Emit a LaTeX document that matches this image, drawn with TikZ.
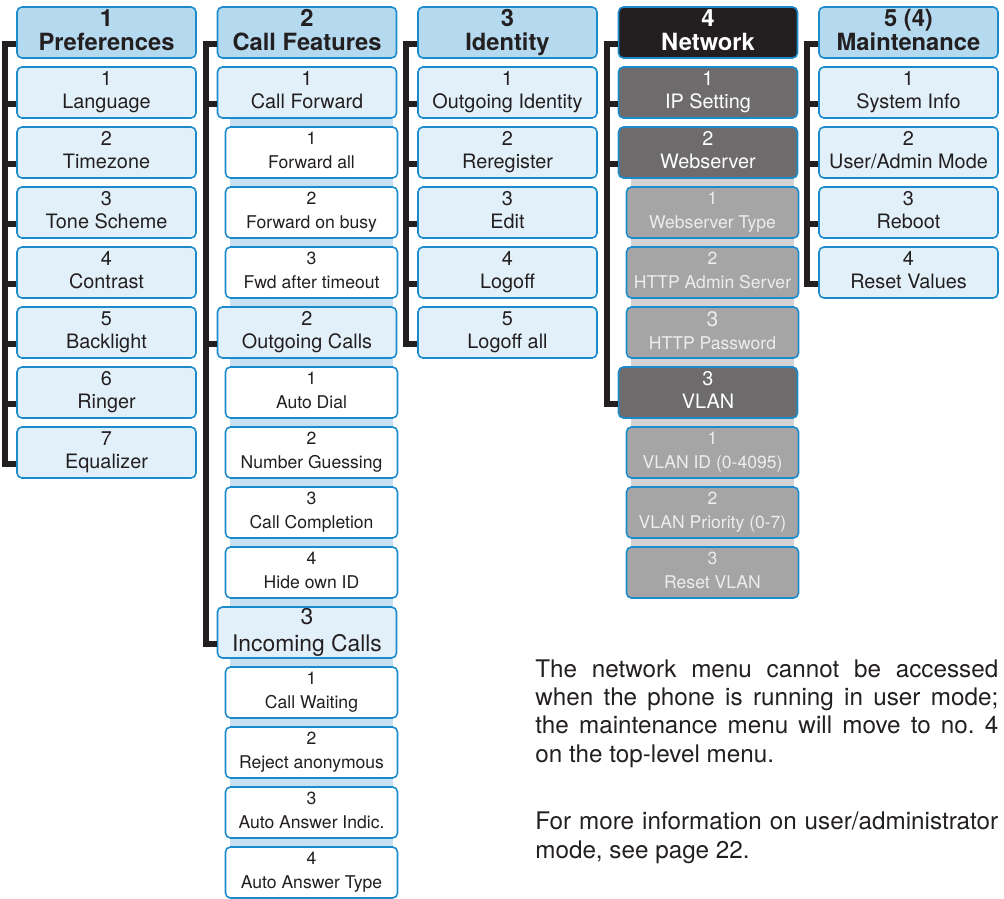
\documentclass[tikz,border=0pt]{standalone}
\usepackage{fontspec}
\setmainfont{TeX Gyre Heros}
\usetikzlibrary{backgrounds,calc}
\definecolor{edgeblue}{RGB}{27,139,204}
\definecolor{headblue}{RGB}{181,217,238}
\definecolor{itemblue}{RGB}{226,240,249}
\definecolor{stripblue}{RGB}{199,225,242}
\definecolor{inkdark}{RGB}{35,31,32}
\definecolor{netdark}{RGB}{110,107,108}
\definecolor{netlight}{RGB}{166,165,165}
\definecolor{stripgray}{RGB}{211,211,211}
\frenchspacing
\tikzset{
  mbox/.style={draw=edgeblue, line width=0.9pt, rounded corners=2.8pt, align=center, text=inkdark, minimum width=3.58cm, minimum height=1.02cm, inner sep=0pt, execute at end node=\vphantom{g}},
  mhead/.style={mbox, fill=headblue, font=\fontsize{13.5}{14}\selectfont\bfseries},
  mitem/.style={mbox, fill=itemblue, font=\fontsize{11.3}{13}\selectfont},
  msub/.style={mbox, fill=white, minimum width=3.44cm, font=\fontsize{10}{13.5}\selectfont},
  nhead/.style={mhead, fill=inkdark, text=white},
  nitem/.style={mitem, fill=netdark, text=white},
  nsub/.style={msub, fill=netlight, text=white!93!black},
  trunk/.style={line width=3.6pt, draw=inkdark},
  bstrip/.style={fill=stripblue},
  gstrip/.style={fill=stripgray},
  note/.style={anchor=base west, inner sep=0pt, align=left, text=inkdark, font=\fontsize{13.8}{16.1}\selectfont},
}

\begin{document}
\begin{tikzpicture}[x=0.02cm, y=-0.02cm]
    \useasboundingbox (0,0) rectangle (1004,899);
    \node[mhead] (pref) at (106.5,32.5) {1\\Preferences};
    \node[mitem] (lang) at (106.5,92.5) {1\\Language};
    \node[mitem] (tzone) at (106.5,152.5) {2\\Timezone};
    \node[mitem] (tone) at (106.5,212.5) {3\\Tone Scheme};
    \node[mitem] (contr) at (106.5,272.5) {4\\Contrast};
    \node[mitem] (blight) at (106.5,332.5) {5\\Backlight};
    \node[mitem] (ringer) at (106.5,392.5) {6\\Ringer};
    \node[mitem] (equal) at (106.5,452.5) {7\\Equalizer};
    \node[mhead] (feat) at (307,32.5) {2\\Call Features};
    \node[mitem] (cfwd) at (307,92.5) {1\\Call Forward};
    \node[msub] (fwdall) at (311.5,152.5) {1\\Forward all};
    \node[msub] (fwdbusy) at (311.5,212.5) {2\\Forward on busy};
    \node[msub] (fwdtime) at (311.5,272.5) {3\\Fwd after timeout};
    \node[mitem] (outcalls) at (307,332.5) {2\\Outgoing Calls};
    \node[msub] (autodial) at (311.5,392.5) {1\\Auto Dial};
    \node[msub] (guess) at (311.5,452.5) {2\\Number Guessing};
    \node[msub] (complet) at (311.5,512.5) {3\\Call Completion};
    \node[msub] (hideid) at (311.5,572.5) {4\\Hide own ID};
    \node[mitem, font=\fontsize{13}{15.5}\selectfont] (incalls) at (307,632.5) {3\\Incoming Calls};
    \node[msub] (waiting) at (311.5,692.5) {1\\Call Waiting};
    \node[msub] (reject) at (311.5,752.5) {2\\Reject anonymous};
    \node[msub] (ansind) at (311.5,812.5) {3\\Auto Answer Indic.};
    \node[msub] (anstype) at (311.5,872.5) {4\\Auto Answer Type};
    \node[mhead] (ident) at (507.5,32.5) {3\\Identity};
    \node[mitem] (outid) at (507.5,92.5) {1\\Outgoing Identity};
    \node[mitem] (rereg) at (507.5,152.5) {2\\Reregister};
    \node[mitem] (edit) at (507.5,212.5) {3\\Edit};
    \node[mitem] (logoff) at (507.5,272.5) {4\\Logoff};
    \node[mitem] (logall) at (507.5,332.5) {5\\Logoff all};
    \node[nhead] (netw) at (708,32.5) {4\\Network};
    \node[nitem] (ipset) at (708,92.5) {1\\IP Setting};
    \node[nitem] (websrv) at (708,152.5) {2\\Webserver};
    \node[nsub] (webtype) at (712.5,212.5) {1\\Webserver Type};
    \node[nsub] (httpadm) at (712.5,272.5) {2\\HTTP Admin Server};
    \node[nsub] (httppw) at (712.5,332.5) {{\fontsize{12}{13.5}\selectfont 3}\\HTTP Password};
    \node[nitem] (vlan) at (708,392.5) {3\\VLAN};
    \node[nsub] (vlanid) at (712.5,452.5) {1\\VLAN ID (0-4095)};
    \node[nsub] (vlanprio) at (712.5,512.5) {2\\VLAN Priority (0-7)};
    \node[nsub] (vlanrst) at (712.5,572.5) {3\\Reset VLAN};
    \node[mhead] (maint) at (908.5,32.5) {5 (4)\\Maintenance};
    \node[mitem] (sysinfo) at (908.5,92.5) {1\\System Info};
    \node[mitem] (usermode) at (908.5,152.5) {2\\User/Admin Mode};
    \node[mitem] (reboot) at (908.5,212.5) {3\\Reboot};
    \node[mitem] (resetval) at (908.5,272.5) {4\\Reset Values};
    \begin{scope}[on background layer]
      \fill[bstrip] (fwdall.west |- cfwd.center) ++(5,0) rectangle ($(fwdall.east |- outcalls.center)+(-5,0)$);
      \fill[bstrip] (autodial.west |- outcalls.center) ++(5,0) rectangle ($(autodial.east |- incalls.center)+(-5,0)$);
      \fill[bstrip] (waiting.west |- incalls.center) ++(5,0) rectangle ($(anstype.east)+(-5,0)$);
      \fill[gstrip] (webtype.west |- websrv.center) ++(5,0) rectangle ($(webtype.east |- vlan.center)+(-5,0)$);
      \fill[gstrip] (vlanid.west |- vlan.center) ++(5,0) rectangle ($(vlanrst.east)+(-5,0)$);
    \end{scope}
    \draw[trunk] ([yshift=-0.23cm]pref.west) -- ++(-11,0) |- ([yshift=-0.23cm]lang.west);
    \draw[trunk] ([yshift=-0.23cm]pref.west) -- ++(-11,0) |- ([yshift=-0.23cm]tzone.west);
    \draw[trunk] ([yshift=-0.23cm]pref.west) -- ++(-11,0) |- ([yshift=-0.23cm]tone.west);
    \draw[trunk] ([yshift=-0.23cm]pref.west) -- ++(-11,0) |- ([yshift=-0.23cm]contr.west);
    \draw[trunk] ([yshift=-0.23cm]pref.west) -- ++(-11,0) |- ([yshift=-0.23cm]blight.west);
    \draw[trunk] ([yshift=-0.23cm]pref.west) -- ++(-11,0) |- ([yshift=-0.23cm]ringer.west);
    \draw[trunk] ([yshift=-0.23cm]pref.west) -- ++(-11,0) |- ([yshift=-0.23cm]equal.west);
    \draw[trunk] ([yshift=-0.23cm]feat.west) -- ++(-11,0) |- ([yshift=-0.23cm]cfwd.west);
    \draw[trunk] ([yshift=-0.23cm]feat.west) -- ++(-11,0) |- ([yshift=-0.23cm]outcalls.west);
    \draw[trunk] ([yshift=-0.23cm]feat.west) -- ++(-11,0) |- ([yshift=-0.23cm]incalls.west);
    \draw[trunk] ([yshift=-0.23cm]ident.west) -- ++(-11,0) |- ([yshift=-0.23cm]outid.west);
    \draw[trunk] ([yshift=-0.23cm]ident.west) -- ++(-11,0) |- ([yshift=-0.23cm]rereg.west);
    \draw[trunk] ([yshift=-0.23cm]ident.west) -- ++(-11,0) |- ([yshift=-0.23cm]edit.west);
    \draw[trunk] ([yshift=-0.23cm]ident.west) -- ++(-11,0) |- ([yshift=-0.23cm]logoff.west);
    \draw[trunk] ([yshift=-0.23cm]ident.west) -- ++(-11,0) |- ([yshift=-0.23cm]logall.west);
    \draw[trunk] ([yshift=-0.23cm]netw.west) -- ++(-11,0) |- ([yshift=-0.23cm]ipset.west);
    \draw[trunk] ([yshift=-0.23cm]netw.west) -- ++(-11,0) |- ([yshift=-0.23cm]websrv.west);
    \draw[trunk] ([yshift=-0.23cm]netw.west) -- ++(-11,0) |- ([yshift=-0.23cm]vlan.west);
    \draw[trunk] ([yshift=-0.23cm]maint.west) -- ++(-11,0) |- ([yshift=-0.23cm]sysinfo.west);
    \draw[trunk] ([yshift=-0.23cm]maint.west) -- ++(-11,0) |- ([yshift=-0.23cm]usermode.west);
    \draw[trunk] ([yshift=-0.23cm]maint.west) -- ++(-11,0) |- ([yshift=-0.23cm]reboot.west);
    \draw[trunk] ([yshift=-0.23cm]maint.west) -- ++(-11,0) |- ([yshift=-0.23cm]resetval.west);
    \node[note] (usernote) at (535,762) {\makebox[9.26cm][s]{The network menu cannot be accessed}\\
      \makebox[9.26cm][s]{when the phone is running in user mode;}\\
      \makebox[9.26cm][s]{the maintenance menu will move to no. 4}\\
      on the top-level menu.};
    \node[note] (pagenote) at (535,858) {\makebox[9.26cm][s]{\spaceskip=0.08em plus 1em\relax For more information on user/administrator}\\
      mode, see page 22.};
  \end{tikzpicture}
\end{document}
